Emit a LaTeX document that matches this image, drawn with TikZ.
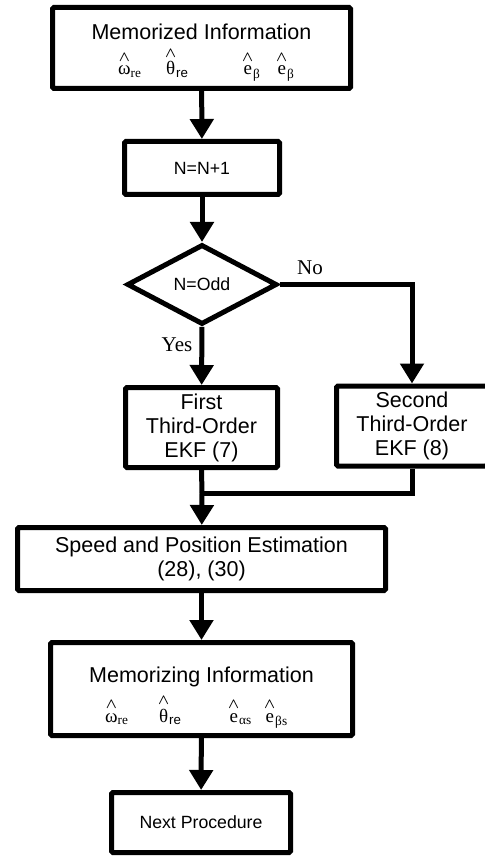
\documentclass[tikz,border=0pt]{standalone}
\usepackage{fontspec}
\usepackage{amsmath}
\setmainfont{Liberation Sans}
\newfontfamily\serifgr{Liberation Serif}
\usetikzlibrary{arrows.meta,shapes.geometric}
\newcommand{\myBig}{\fontsize{21.5}{24}\selectfont}
\newcommand{\mySmall}{\fontsize{17.7}{20}\selectfont}
\newcommand{\mySym}{\fontsize{19}{20}\selectfont}
\newcommand{\hatS}[2]{$\overset{\raisebox{0.1ex}{$\scriptstyle\boldsymbol{\wedge}$}}{\text{\serifgr #1}}_{\text{#2}}$}
\begin{document}
\begin{tikzpicture}[x=1pt,y=-1pt,
  box/.style={draw, line width=5pt, rounded corners=1.5pt, inner sep=0pt, align=center},
  bigtxt/.style={font=\myBig},
  smalltxt/.style={font=\mySmall},
  sym/.style={font=\mySym, inner sep=0pt, anchor=base west},
  lbl/.style={font=\serifgr\fontsize{21}{22}\selectfont, inner sep=0pt},
  ttl/.style={font=\myBig, inner sep=0pt, anchor=base},
  line/.style={line width=5pt},
  flow/.style={line width=5pt, -{Triangle[length=20pt,width=23pt]}}]
\useasboundingbox (0,0) rectangle (484,858);
\fill[white] (0,0) rectangle (484,858);

% Memorized information
\node[box, minimum width=298pt, minimum height=81pt] (mem) at (201.5,48) {};
\node[ttl] (memt) at (201.5,40) {Memorized Information};
\node[sym] (s1) at (118,75) {\hatS{ω}{\serifgr re}};
\node[sym] (s2) at (165,75) {\hatS{θ}{re}};
\node[sym] (s3) at (242,75) {\hatS{e}{\serifgr β}};
\node[sym] (s4) at (276,75) {\hatS{e}{\serifgr β}};

% N=N+1
\node[box, smalltxt, minimum width=155pt, minimum height=53pt] (n1) at (202,168) {N=N+1};

% decision
\node[draw, line width=5pt, diamond, aspect=1.8, inner sep=0pt,
      minimum width=150pt, minimum height=80pt, font=\mySmall] (dec) at (202,284.5) {N=Odd};

% EKF boxes
\node[box, bigtxt, minimum width=152pt, minimum height=80pt] (first) at (201.5,427.5)
  {First\\Third-Order\\EKF (7)};
\node[box, bigtxt, minimum width=151pt, minimum height=80pt] (second) at (412,426)
  {Second\\Third-Order\\EKF (8)};

% speed
\node[box, bigtxt, minimum width=368pt, minimum height=63pt] (speed) at (201.5,559)
  {Speed and Position Estimation\\(28), (30)};

% memorizing
\node[box, minimum width=302pt, minimum height=93pt] (memz) at (201.5,689) {};
\node[ttl] (memzt) at (201.5,682) {Memorizing Information};
\node[sym] (m1) at (105,722) {\hatS{ω}{\serifgr re}};
\node[sym] (m2) at (158,722) {\hatS{θ}{re}};
\node[sym] (m3) at (228,722) {\hatS{e}{\serifgr αs}};
\node[sym] (m4) at (264,722) {\hatS{e}{\serifgr βs}};

% next
\node[box, smalltxt, minimum width=179pt, minimum height=60pt] (next) at (201,822.5) {Next Procedure};

% labels
\node[lbl] (no) at (310,268) {No};
\node[lbl] (yes) at (177,345) {Yes};

% connectors
\coordinate (merge) at (202,493);
\draw[flow] (mem) -- (n1);
\draw[flow] (n1) -- (dec);
\draw[flow] (dec) -- (first);
\draw[flow] (dec.east) -| (second.north);
\draw[line] (first.south) -- (merge);
\draw[line] (second.south) |- (merge);
\draw[flow] (merge) -- (speed);
\draw[flow] (speed) -- (memz);
\draw[flow] (memz) -- (next);
\end{tikzpicture}
\end{document}
